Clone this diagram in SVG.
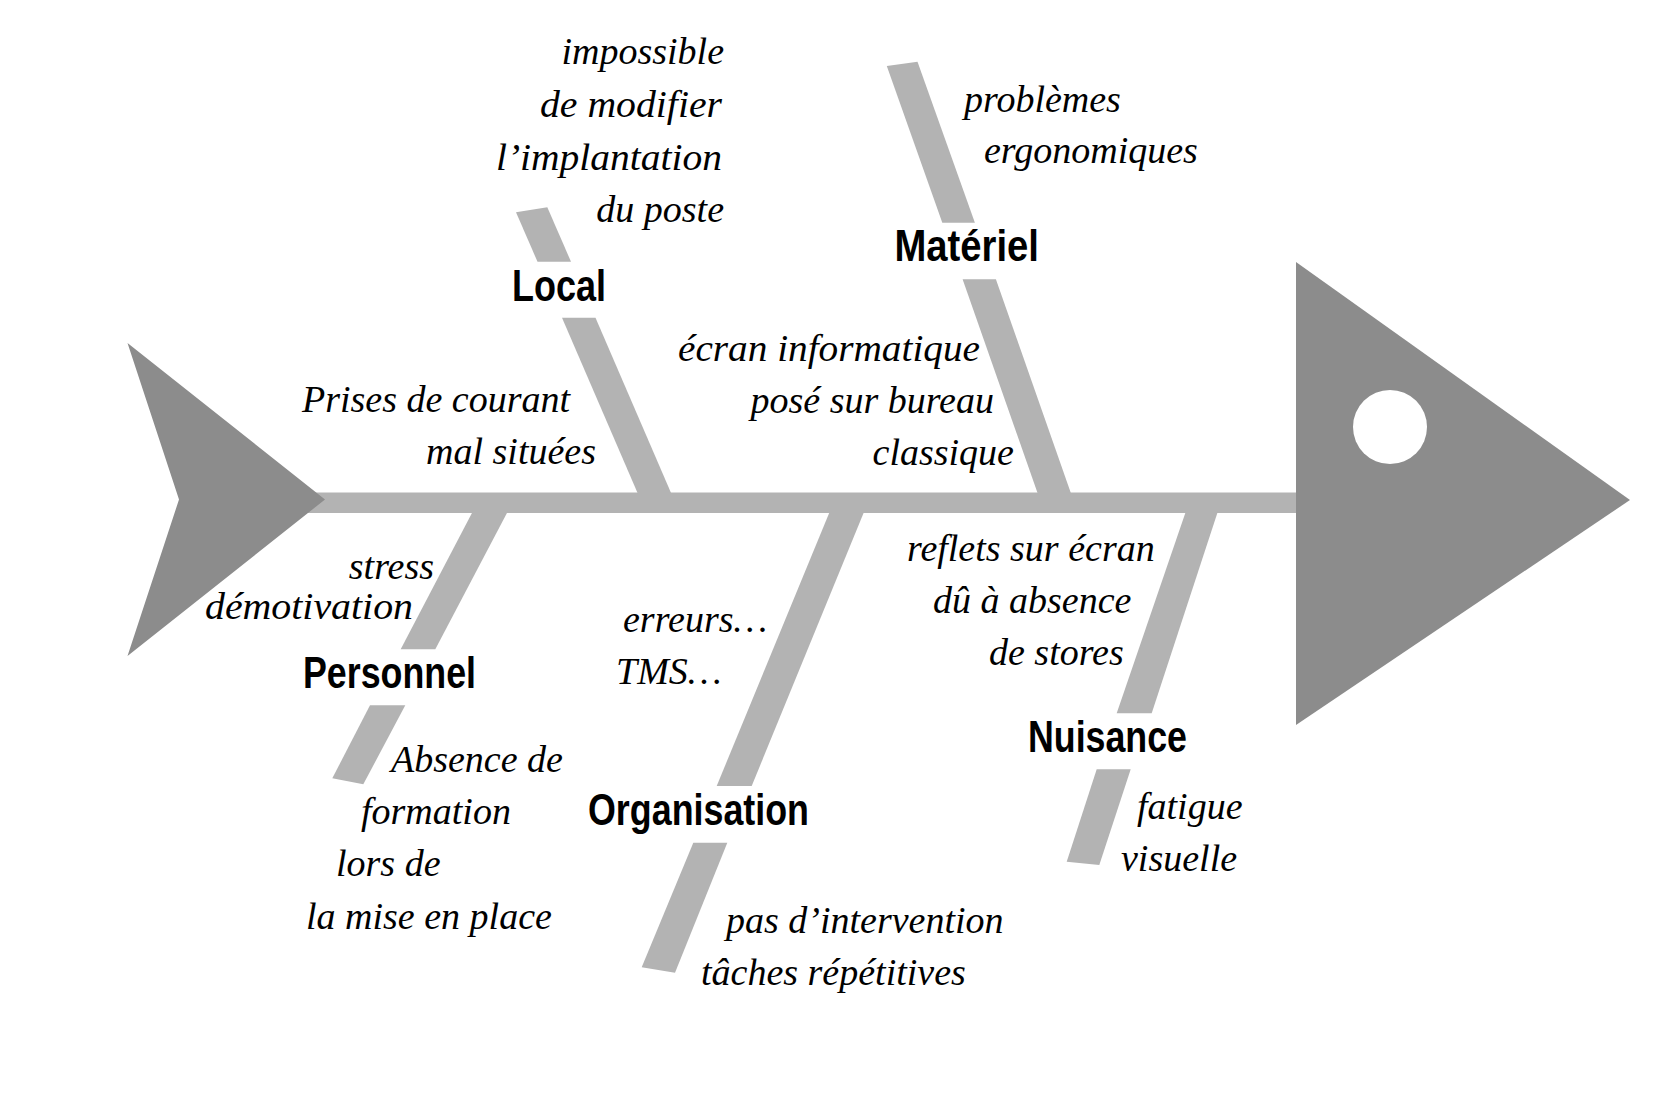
<svg xmlns="http://www.w3.org/2000/svg" width="1666" height="1102" viewBox="0 0 1666 1102">
<style>
.bone{fill:#b3b3b3}
.fish{fill:#8c8c8c}
.t{font-family:"Liberation Serif","Times New Roman",serif;font-style:italic;font-size:38px;fill:#000}
.e{text-anchor:end}
.lbl{font-family:"Liberation Sans",Arial,sans-serif;font-weight:bold;font-size:45px;fill:#000}
</style>
<rect width="1666" height="1102" fill="#fff"/>
<g id="connectors">
<rect class="bone" x="300" y="492.5" width="1000" height="20.5"/>
<polygon class="bone" points="516,212.3 547.3,207.3 571,261.7 537.5,261.7"/>
<polygon class="bone" points="562,317.7 595.5,317.7 671.5,494 638,494"/>
<polygon class="bone" points="886.8,66 917.5,61.7 974.9,222.7 942.3,222.7"/>
<polygon class="bone" points="962.6,279.3 995.9,279.3 1071.2,494 1037.9,494"/>
<polygon class="bone" points="473,511 508,511 435.3,649.3 400.7,649.3"/>
<polygon class="bone" points="370,705.3 405.3,705.3 363.3,784.3 332.3,778.3"/>
<polygon class="bone" points="830,511 864.4,511 751.7,786 716.7,786"/>
<polygon class="bone" points="693.3,842.7 727.3,842.7 675,972.7 641.7,967.3"/>
<polygon class="bone" points="1186,511 1218,511 1151.7,713.3 1116.7,713.3"/>
<polygon class="bone" points="1096.7,769.3 1130.7,769.3 1099.3,865 1066.7,861.7"/>
</g>
<g id="tail">
<polygon class="fish" points="127.5,343 325,499.5 127.5,656 179,499.5"/>
</g>
<g id="head">
<polygon class="fish" points="1296,262 1630,500 1296,725"/>
<circle cx="1390" cy="427" r="37" fill="#fff"/>
</g>
<g id="local">
<text class="lbl" x="512" y="300.5" textLength="94" lengthAdjust="spacingAndGlyphs">Local</text>
<text class="t e" x="724" y="64">impossible</text>
<text class="t e" x="722" y="117" textLength="182" lengthAdjust="spacingAndGlyphs">de modifier</text>
<text class="t e" x="722" y="170" textLength="226" lengthAdjust="spacingAndGlyphs">l’implantation</text>
<text class="t e" x="724" y="222">du poste</text>
<text class="t e" x="570" y="412">Prises de courant</text>
<text class="t e" x="596" y="464">mal situées</text>
</g>
<g id="materiel">
<text class="lbl" x="894.5" y="261" textLength="144.5" lengthAdjust="spacingAndGlyphs">Matériel</text>
<text class="t" x="964" y="111.5">problèmes</text>
<text class="t" x="984" y="162.5">ergonomiques</text>
<text class="t e" x="980" y="361" textLength="302" lengthAdjust="spacingAndGlyphs">écran informatique</text>
<text class="t e" x="994" y="413">posé sur bureau</text>
<text class="t e" x="1014" y="465">classique</text>
</g>
<g id="personnel">
<text class="lbl" x="303" y="687.5" textLength="173" lengthAdjust="spacingAndGlyphs">Personnel</text>
<text class="t e" x="434" y="579">stress</text>
<text class="t e" x="413" y="619" textLength="208" lengthAdjust="spacingAndGlyphs">démotivation</text>
<text class="t" x="391" y="771.5">Absence de</text>
<text class="t" x="361" y="823.5">formation</text>
<text class="t" x="336" y="875.5">lors de</text>
<text class="t" x="306" y="928.5">la mise en place</text>
</g>
<g id="organisation">
<text class="lbl" x="588" y="824.5" textLength="221" lengthAdjust="spacingAndGlyphs">Organisation</text>
<text class="t" x="623" y="632">erreurs…</text>
<text class="t" x="616" y="684">TMS…</text>
<text class="t" x="726" y="933">pas d’intervention</text>
<text class="t" x="701" y="985">tâches répétitives</text>
</g>
<g id="nuisance">
<text class="lbl" x="1028" y="752" textLength="159" lengthAdjust="spacingAndGlyphs">Nuisance</text>
<text class="t" x="907" y="561">reflets sur écran</text>
<text class="t" x="933" y="613">dû à absence</text>
<text class="t" x="989" y="665">de stores</text>
<text class="t" x="1137" y="819">fatigue</text>
<text class="t" x="1121" y="871">visuelle</text>
</g>
</svg>
